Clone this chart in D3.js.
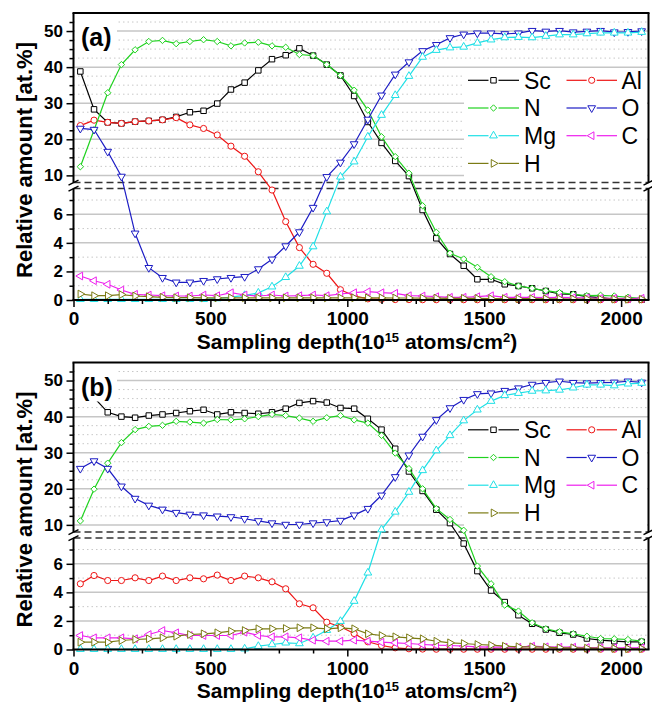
<!DOCTYPE html>
<html>
<head>
    <meta charset="utf-8">
    <title>Depth profiles (a) and (b)</title>
    <script src="https://d3js.org/d3.v7.min.js"></script>
    <style>
        html, body {
            margin: 0;
            background: #fff;
        }

        svg {
            display: block;
            font-family: Arial, "Liberation Sans", Helvetica, sans-serif;
        }
    </style>
</head>
<body>
    <svg id="svg"></svg>
    <script>
        // sampling depth of every point (10^15 atoms/cm^2)
        const depth = [
            25, 75, 125, 175, 225, 275, 325, 375, 425, 475,
            525, 575, 625, 675, 725, 775, 825, 875, 925, 975,
            1025, 1075, 1125, 1175, 1225, 1275, 1325, 1375, 1425, 1475,
            1525, 1575, 1625, 1675, 1725, 1775, 1825, 1875, 1925, 1975,
            2025, 2075
        ];

        // panel (a)
        const scA = [
            38.8, 28.3, 24.7, 24.4, 24.9, 25.1, 25.4, 26.2, 27.5, 27.9,
            29.9, 33.8, 35.7, 39.1, 42.2, 43.3, 45.2, 43.2, 40.7, 37.7,
            32.0, 24.8, 19.0, 14.0, 9.8, 6.3, 4.32, 3.22, 2.40, 1.45,
            1.45, 1.10, 0.98, 0.82, 0.63, 0.42, 0.40, 0.23, 0.16, 0.07,
            0.05, 0.02
        ];
        const alA = [
            23.8, 25.3, 24.7, 24.4, 24.9, 25.1, 25.4, 26.0, 24.0, 23.0,
            21.2, 18.1, 15.3, 11.0, 7.7, 5.49, 3.67, 2.50, 1.87, 0.72,
            0.30, 0.08, 0.05, 0.03, 0.03, 0.02, 0.02, 0.02, 0.02, 0.02,
            0.02, 0.02, 0.02, 0.02, 0.02, 0.02, 0.02, 0.02, 0.02, 0.02,
            0.02, 0.02
        ];
        const nA = [
            12.4, 22.6, 32.9, 40.7, 44.8, 47.1, 47.4, 46.5, 47.1, 47.6,
            47.1, 45.9, 46.7, 46.9, 45.9, 45.5, 43.5, 43.2, 40.7, 37.7,
            33.6, 28.1, 20.7, 15.2, 10.6, 6.6, 4.74, 3.27, 2.87, 2.29,
            1.63, 1.28, 0.98, 0.82, 0.65, 0.51, 0.40, 0.30, 0.33, 0.28,
            0.19, 0.12
        ];
        const oA = [
            23.0, 22.7, 16.6, 9.7, 4.67, 2.26, 1.56, 1.24, 1.24, 1.35,
            1.47, 1.56, 1.63, 2.17, 2.85, 3.78, 4.76, 6.47, 9.6, 13.6,
            18.7, 25.5, 32.2, 38.0, 41.4, 44.5, 46.2, 48.1, 49.1, 49.4,
            49.4, 49.2, 49.4, 50.1, 49.9, 50.1, 49.7, 49.9, 50.1, 49.7,
            49.8, 50.0
        ];
        const mgA = [
            0.05, 0.05, 0.05, 0.05, 0.05, 0.05, 0.05, 0.05, 0.05, 0.05,
            0.10, 0.20, 0.33, 0.50, 0.93, 1.59, 2.38, 3.74, 6.19, 9.6,
            13.8, 20.7, 26.7, 32.2, 37.5, 42.8, 44.7, 45.4, 45.6, 46.7,
            47.6, 48.2, 48.3, 48.2, 48.6, 49.0, 49.0, 49.3, 49.5, 49.5,
            49.5, 49.7
        ];
        const cA = [
            1.68, 1.35, 1.10, 0.70, 0.40, 0.35, 0.30, 0.28, 0.28, 0.35,
            0.30, 0.51, 0.35, 0.28, 0.35, 0.28, 0.30, 0.35, 0.30, 0.42,
            0.51, 0.58, 0.51, 0.47, 0.30, 0.28, 0.23, 0.19, 0.19, 0.23,
            0.30, 0.19, 0.19, 0.19, 0.16, 0.19, 0.16, 0.14, 0.12, 0.12,
            0.09, 0.12
        ];
        const hA = [
            0.42, 0.30, 0.30, 0.38, 0.28, 0.23, 0.19, 0.16, 0.16, 0.15,
            0.15, 0.15, 0.15, 0.15, 0.15, 0.15, 0.15, 0.15, 0.15, 0.15,
            0.15, 0.15, 0.15, 0.14, 0.14, 0.13, 0.13, 0.12, 0.12, 0.11,
            0.10, 0.10, 0.09, 0.09, 0.08, 0.08, 0.07, 0.07, 0.06, 0.06,
            0.05, 0.05
        ];

        // panel (b)
        const scB = [
            47.0, 45.3, 41.2, 40.0, 39.7, 40.3, 40.6, 41.0, 41.5, 41.9,
            40.6, 41.2, 41.0, 40.8, 41.2, 42.2, 43.8, 44.3, 43.9, 42.4,
            42.2, 39.4, 36.4, 31.1, 24.8, 19.4, 14.2, 10.5, 7.42, 5.49,
            4.13, 3.32, 2.40, 1.80, 1.40, 1.17, 1.05, 0.77, 0.65, 0.58,
            0.54, 0.54
        ];
        const alB = [
            4.60, 5.18, 4.83, 4.83, 5.02, 4.83, 5.14, 4.83, 5.02, 4.95,
            5.21, 4.83, 5.14, 5.02, 4.74, 4.25, 3.20, 2.92, 1.91, 1.59,
            1.12, 0.54, 0.28, 0.12, 0.05, 0.03, 0.02, 0.02, 0.02, 0.02,
            0.02, 0.02, 0.02, 0.02, 0.02, 0.02, 0.02, 0.02, 0.02, 0.02,
            0.02, 0.02
        ];
        const nB = [
            11.1, 19.9, 27.1, 32.8, 36.4, 37.3, 37.6, 38.7, 38.5, 38.2,
            39.2, 39.1, 39.4, 40.0, 40.6, 40.3, 39.6, 38.7, 39.7, 40.3,
            39.1, 38.2, 34.8, 29.9, 25.6, 20.0, 14.5, 11.5, 8.5, 5.84,
            4.60, 3.11, 2.69, 1.87, 1.45, 1.24, 1.10, 0.93, 0.77, 0.75,
            0.70, 0.58
        ];
        const oB = [
            25.6, 27.7, 25.6, 20.7, 17.3, 15.4, 14.3, 13.4, 12.9, 12.7,
            12.4, 12.2, 11.7, 11.1, 10.5, 10.1, 10.1, 10.5, 10.8, 11.2,
            12.7, 14.5, 18.2, 23.3, 29.3, 34.5, 39.1, 42.4, 44.7, 46.3,
            46.5, 47.2, 47.9, 48.9, 49.4, 49.8, 49.4, 49.3, 49.4, 49.5,
            49.8, 49.5
        ];
        const mgB = [
            0.02, 0.02, 0.02, 0.02, 0.02, 0.02, 0.02, 0.02, 0.02, 0.02,
            0.02, 0.02, 0.05, 0.23, 0.35, 0.47, 0.42, 0.82, 1.35, 1.98,
            3.39, 5.37, 8.7, 13.6, 19.1, 25.1, 30.6, 34.8, 38.9, 41.9,
            44.3, 45.9, 46.5, 47.1, 47.2, 47.4, 48.0, 48.8, 48.8, 48.6,
            49.1, 49.3
        ];
        const cB = [
            0.98, 0.82, 0.82, 0.82, 0.75, 1.05, 1.33, 1.17, 0.98, 0.98,
            0.98, 0.98, 1.21, 0.98, 0.89, 0.89, 0.82, 0.65, 0.58, 0.58,
            0.65, 0.58, 0.51, 0.47, 0.42, 0.35, 0.30, 0.28, 0.23, 0.19,
            0.16, 0.16, 0.16, 0.23, 0.19, 0.16, 0.16, 0.14, 0.12, 0.12,
            0.12, 0.12
        ];
        const hB = [
            0.51, 0.51, 0.51, 0.63, 0.70, 0.75, 0.82, 0.93, 1.05, 1.10,
            1.17, 1.28, 1.33, 1.45, 1.45, 1.47, 1.52, 1.52, 1.45, 1.52,
            1.45, 1.10, 0.98, 0.89, 0.82, 0.75, 0.58, 0.47, 0.42, 0.35,
            0.30, 0.23, 0.19, 0.19, 0.16, 0.12, 0.12, 0.09, 0.09, 0.07,
            0.05, 0.05
        ];

        const elements = ["Sc", "Al", "N", "O", "Mg", "C", "H"];
        const legendRows = [["Sc", "Al"], ["N", "O"], ["Mg", "C"], ["H"]];

        const upperTicks = [10, 20, 30, 40, 50];
        const upperMinor = [12.5, 15, 17.5, 22.5, 25, 27.5, 32.5, 35, 37.5, 42.5, 45, 47.5, 52.5];
        const lowerTicks = [0, 2, 4, 6];
        const lowerMinor = [1, 3, 5, 7];
        const xTicks = [0, 500, 1000, 1500, 2000];
        const xMinor = [125, 250, 375, 625, 750, 875, 1125, 1250, 1375, 1625, 1750, 1875];

        const panels = [
            { top: 13, label: "(a)", values: { Sc: scA, Al: alA, N: nA, O: oA, Mg: mgA, C: cA, H: hA } },
            { top: 362.5, label: "(b)", values: { Sc: scB, Al: alB, N: nB, O: oB, Mg: mgB, C: cB, H: hB } }
        ];

        const look = {
            Sc: { color: "#000000", shape: d3.symbolSquare, size: 30, rotate: 0 },
            Al: { color: "#ee1515", shape: d3.symbolCircle, size: 30, rotate: 0 },
            N:  { color: "#1fd21f", shape: d3.symbolDiamond2, size: 26, rotate: 0 },
            O:  { color: "#1c1cc4", shape: d3.symbolTriangle, size: 26, rotate: 180 },
            Mg: { color: "#1fe0e6", shape: d3.symbolTriangle, size: 26, rotate: 0 },
            C:  { color: "#ee1fee", shape: d3.symbolTriangle, size: 26, rotate: -90 },
            H:  { color: "#7b7b14", shape: d3.symbolTriangle, size: 26, rotate: 90 }
        };

        const width = 652, height = 704;
        const plotH = 287;

        const svg = d3.select("#svg")
            .attr("width", width)
            .attr("height", height);

        const x = d3.scaleLinear()
            .domain([0, 2100])
            .range([73.5, 648.5]);

        // broken axis: 0-7.8 below the break, 8-55 above it
        const y = d3.scaleLinear()
            .domain([0, 7.8, 8, 55])
            .range([plotH, 175.6, 169.6, 0]);

        const breakLo = y(7.8);
        const breakHi = y(8);

        panels.forEach(p => drawPanel(p));

        function drawPanel(p) {
            const g = svg.append("g").attr("transform", `translate(0,${p.top})`);
            const x0 = x(0), x1 = x(2100);

            // grid
            g.append("g").selectAll("line")
                .data(upperTicks.concat(lowerTicks.slice(1)))
                .join("line")
                .attr("x1", x0).attr("x2", x1)
                .attr("y1", d => y(d)).attr("y2", d => y(d))
                .attr("stroke", "#c6c6c6")
                .attr("stroke-width", 1.5);

            g.append("g").selectAll("line")
                .data(upperMinor.concat(lowerMinor))
                .join("line")
                .attr("x1", x0).attr("x2", x1)
                .attr("y1", d => y(d)).attr("y2", d => y(d))
                .attr("stroke", "#c8c8c8")
                .attr("stroke-width", 1)
                .attr("stroke-dasharray", "1.5,3");

            // white background of the legend
            g.append("rect")
                .attr("x", 464).attr("y", 56)
                .attr("width", 183).attr("height", 112)
                .attr("fill", "#fff");

            // gap of the broken axis
            g.append("rect")
                .attr("x", x0).attr("y", breakHi)
                .attr("width", x1 - x0).attr("height", breakLo - breakHi)
                .attr("fill", "#fff");

            g.append("g").selectAll("line")
                .data([breakHi, breakLo])
                .join("line")
                .attr("x1", x0).attr("x2", x1)
                .attr("y1", d => d).attr("y2", d => d)
                .attr("stroke", "#333")
                .attr("stroke-width", 1.5)
                .attr("stroke-dasharray", "7,4");

            // series
            const line = d3.line()
                .x(d => x(d[0]))
                .y(d => y(d[1]));

            elements.forEach(name => {
                const s = look[name];
                const pts = depth.map((d, i) => [d, p.values[name][i]]);

                g.append("path")
                    .datum(pts)
                    .attr("fill", "none")
                    .attr("stroke", s.color)
                    .attr("stroke-width", 1.2)
                    .attr("d", line);

                g.append("g").selectAll("path")
                    .data(pts)
                    .join("path")
                    .attr("transform", d => `translate(${x(d[0])},${y(d[1])}) rotate(${s.rotate})`)
                    .attr("d", d3.symbol().type(s.shape).size(s.size))
                    .attr("fill", "#fff")
                    .attr("stroke", s.color)
                    .attr("stroke-width", 1);
            });

            // axes
            const leftAxis = g.append("g")
                .attr("transform", `translate(${x0},0)`)
                .call(d3.axisLeft(y).tickValues(upperTicks.concat(lowerTicks)).tickSize(7).tickPadding(3.5))
                .call(a => a.select(".domain").remove());
            leftAxis.selectAll("text")
                .style("font-size", "17px")
                .style("font-weight", "bold");

            g.append("g")
                .attr("transform", `translate(${x0},0)`)
                .call(d3.axisLeft(y).tickValues(upperMinor.concat(lowerMinor)).tickSize(4).tickFormat(""))
                .call(a => a.select(".domain").remove());

            const bottomAxis = g.append("g")
                .attr("transform", `translate(0,${plotH})`)
                .call(d3.axisBottom(x).tickValues(xTicks).tickSize(7).tickPadding(5).tickFormat(d3.format("d")))
                .call(a => a.select(".domain").remove());
            bottomAxis.selectAll("text")
                .style("font-size", "19px")
                .style("font-weight", "bold");

            g.append("g")
                .attr("transform", `translate(0,${plotH})`)
                .call(d3.axisBottom(x).tickValues(xMinor).tickSize(4).tickFormat(""))
                .call(a => a.select(".domain").remove());

            g.selectAll(".tick line").attr("stroke-width", 1.5);

            // frame
            const frame = g.append("g")
                .attr("stroke", "#000")
                .attr("stroke-width", 2)
                .attr("fill", "none");

            [x0, x1].forEach(xx => {
                frame.append("line").attr("x1", xx).attr("x2", xx).attr("y1", 0).attr("y2", breakHi);
                frame.append("line").attr("x1", xx).attr("x2", xx).attr("y1", breakLo).attr("y2", plotH);
                [breakHi, breakLo].forEach(yy => {
                    frame.append("line")
                        .attr("stroke-width", 1.5)
                        .attr("x1", xx - 5).attr("y1", yy + 2.5)
                        .attr("x2", xx + 5).attr("y2", yy - 2.5);
                });
            });
            frame.append("line").attr("x1", x0 - 1).attr("x2", x1 + 1).attr("y1", 0).attr("y2", 0);
            frame.append("line").attr("x1", x0 - 1).attr("x2", x1 + 1).attr("y1", plotH).attr("y2", plotH);

            // axis titles
            g.append("text")
                .attr("transform", `translate(32,147) rotate(-90)`)
                .attr("text-anchor", "middle")
                .style("font-size", "22px")
                .style("font-weight", "bold")
                .text("Relative amount [at.%]");

            const xt = g.append("text")
                .attr("x", 357)
                .attr("y", 335.5)
                .attr("text-anchor", "middle")
                .style("font-size", "21px")
                .style("font-weight", "bold");
            xt.append("tspan").text("Sampling depth(10");
            xt.append("tspan").attr("dy", -7).style("font-size", "13px").text("15");
            xt.append("tspan").attr("dy", 7).text(" atoms/cm");
            xt.append("tspan").attr("dy", -7).style("font-size", "13px").text("2");
            xt.append("tspan").attr("dy", 7).text(")");

            // panel label on a white patch, above the data
            g.append("rect")
                .attr("x", 75).attr("y", 4)
                .attr("width", 42).attr("height", 35)
                .attr("fill", "#fff");

            g.append("text")
                .attr("x", 81)
                .attr("y", 33)
                .style("font-size", "25px")
                .style("font-weight", "bold")
                .text(p.label);

            // legend
            const cols = [
                { l1: 468, l2: 519, sym: 493.5, text: 524 },
                { l1: 566.5, l2: 617, sym: 591.7, text: 621.5 }
            ];
            legendRows.forEach((row, r) => {
                const cy = 67.3 + 27.7 * r;
                row.forEach((name, c) => {
                    const s = look[name];
                    const col = cols[c];
                    const item = g.append("g");
                    item.append("line")
                        .attr("x1", col.l1).attr("x2", col.sym - 5)
                        .attr("y1", cy).attr("y2", cy)
                        .attr("stroke", s.color).attr("stroke-width", 1.2);
                    item.append("line")
                        .attr("x1", col.sym + 5).attr("x2", col.l2)
                        .attr("y1", cy).attr("y2", cy)
                        .attr("stroke", s.color).attr("stroke-width", 1.2);
                    item.append("path")
                        .attr("transform", `translate(${col.sym},${cy}) rotate(${s.rotate})`)
                        .attr("d", d3.symbol().type(s.shape).size(s.size))
                        .attr("fill", "#fff")
                        .attr("stroke", s.color)
                        .attr("stroke-width", 1);
                    item.append("text")
                        .attr("x", col.text)
                        .attr("y", cy)
                        .attr("dy", "0.36em")
                        .style("font-size", "23px")
                        .text(name);
                });
            });
        }
    </script>
</body>
</html>
